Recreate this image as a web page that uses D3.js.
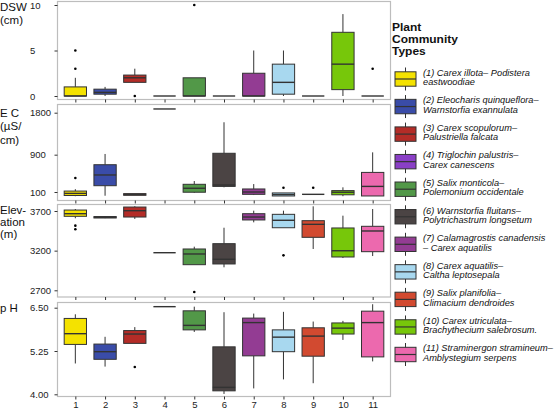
<!DOCTYPE html>
<html><head><meta charset="utf-8">
<script src="https://cdn.jsdelivr.net/npm/d3@7"></script>
<style>body{margin:0;background:#fff}svg{display:block;font-family:"Liberation Sans",Arial,sans-serif}</style>
</head><body><svg id="c" width="559" height="410"></svg>
<script>
const categories = ["1","2","3","4","5","6","7","8","9","10","11"];
const xTickLabels = ["1","2","3","4","5","6","7","8","9","10","11"];
const colors = ["#F4E200","#3A4CA8","#B42C27","#8A3FC6","#529848","#4B4444","#933C93","#A8D8EF","#D24A30","#77C70A","#EC69AE"];

// box stats: [lowWhisker, q1, median, q3, highWhisker]
const dswStats = [[0,0,0,1,2],[0,0.2,0.4,0.75,1],[1.5,1.5,2,2.3,3],[0,0,0,0,0],[0,0,0,2,2],[0,0,0,0,0],[0,0,0,2.5,5],[0,0.2,1.5,3.5,5],[0,0,0,0,0],[0,0.7,3.5,7,9],[0,0,0,0,0]];
const dswOutliers = [[3,5],[],[0],[],[10],[],[],[],[],[],[3]];
const ecStats = [[10,25,70,120,160],[20,235,465,685,915],[30,30,45,65,65],[1880,1880,1880,1880,1880],[80,95,180,265,335],[200,220,250,930,1595],[35,50,100,165,270],[15,15,45,80,80],[50,50,50,50,50],[10,40,95,130,200],[15,15,220,520,950]];
const ecOutliers = [[400],[],[],[],[],[],[],[190],[190],[],[]];
const elevStats = [[3608,3633,3666,3712,3725],[3610,3612,3620,3630,3635],[3600,3624,3704,3750,3760],[3174,3174,3174,3174,3174],[3023,3023,3158,3221,3250],[2990,3032,3091,3288,3489],[3557,3587,3624,3666,3704],[3489,3489,3583,3658,3704],[3221,3368,3532,3578,3759],[3107,3120,3199,3486,3641],[3132,3187,3448,3507,3725]];
const elevOutliers = [[3515,3469],[],[],[],[2679],[],[],[3141],[],[],[]];
const phStats = [[4.89,5.44,5.75,6.19,6.31],[4.80,5.01,5.23,5.45,5.66],[5.47,5.47,5.74,5.84,5.94],[6.53,6.53,6.53,6.53,6.53],[5.80,5.86,5.99,6.41,6.53],[4.01,4.10,4.20,5.37,6.37],[4.17,5.11,6.07,6.20,6.33],[4.43,5.23,5.65,5.86,6.38],[4.32,5.10,5.68,5.92,6.10],[5.57,5.74,5.91,6.06,6.12],[4.95,5.08,6.07,6.40,6.60]];
const phOutliers = [[],[],[4.79],[],[],[],[],[],[],[],[]];

const dswTicks = [0,5,10];
const ecTicks = [100,900,1800];
const elevTicks = [2700,3200,3700];
const phTicks = [4.00,5.25,6.50];

const dswTitle = ["DSW","(cm)"];
const ecTitle = ["E C","(µS/","cm)"];
const elevTitle = ["Elev-","ation","(m)"];
const phTitle = ["p H"];

const legendTitle = ["Plant","Community","Types"];
const legendLabels = [
 ["(1) Carex illota\u2013 Podistera","eastwoodiae"],
 ["(2) Eleocharis quinqueflora\u2013","Warnstorfia exannulata"],
 ["(3) Carex scopulorum\u2013","Palustriella falcata"],
 ["(4) Triglochin palustris\u2013","Carex canescens"],
 ["(5) Salix monticola\u2013","Polemonium occidentale"],
 ["(6) Warnstorfia fluitans\u2013","Polytrichastrum longsetum"],
 ["(7) Calamagrostis canadensis","\u2013 Carex aquatilis"],
 ["(8) Carex aquatilis\u2013","Caltha leptosepala"],
 ["(9) Salix planifolia\u2013","Climacium dendroides"],
 ["(10) Carex utriculata\u2013","Brachythecium salebrosum."],
 ["(11) Straminergon stramineum\u2013","Amblystegium serpens"]
];

const svg = d3.select("#c");
const left = 57.5, right = 390.5;
const x = d3.scalePoint().domain(categories).range([left, right]).padding(0.6);
const bw = x.step() * 0.75;
const lineCol = "#333";

const panels = [
  {top:1.5, bottom:99.5, stats:dswStats, out:dswOutliers, ticks:dswTicks, fmt:d3.format("d"),
   y:d3.scaleLinear().domain([0,10]).range([96,5]), title:dswTitle, titleY:[10.7,24.2]},
  {top:104.5, bottom:200.5, stats:ecStats, out:ecOutliers, ticks:ecTicks, fmt:d3.format("d"),
   y:d3.scaleLinear().domain([100,1800]).range([192,112.7]), title:ecTitle, titleY:[116.5,130,143.5]},
  {top:204.5, bottom:297, stats:elevStats, out:elevOutliers, ticks:elevTicks, fmt:d3.format("d"),
   y:d3.scaleLinear().domain([2700,3700]).range([290.3,211]), title:elevTitle, titleY:[214,226,238]},
  {top:302.5, bottom:396.5, stats:phStats, out:phOutliers, ticks:phTicks, fmt:d3.format(".2f"),
   y:d3.scaleLinear().domain([4,6.5]).range([394.3,307.7]), title:phTitle, titleY:[312]}
];

panels.forEach((p, pi) => {
  const g = svg.append("g");
  g.append("rect").attr("x", left).attr("y", p.top).attr("width", right-left).attr("height", p.bottom-p.top)
   .attr("fill","none").attr("stroke","#bdbdbd").attr("stroke-width",1.2);
  const ax = g.append("g").attr("transform",`translate(${left},0)`)
    .call(d3.axisLeft(p.y).tickValues(p.ticks).tickFormat(p.fmt).tickSize(3).tickPadding(4));
  ax.select(".domain").remove();
  ax.selectAll(".tick line").attr("stroke", lineCol);
  ax.selectAll(".tick text").attr("x", 30-left).attr("text-anchor","start")
    .style("font-size","9.5px").attr("fill","#222").attr("font-family","Liberation Sans, Arial, sans-serif");
  const xa = g.append("g").attr("transform",`translate(0,${p.bottom})`)
    .call(d3.axisBottom(x).tickSize(3).tickFormat((d,i)=> pi===3 ? xTickLabels[i] : ""));
  xa.select(".domain").remove();
  xa.selectAll(".tick line").attr("stroke", lineCol);
  xa.selectAll(".tick text").style("font-size","9.5px").attr("fill","#222").attr("dy","0.55em")
    .attr("font-family","Liberation Sans, Arial, sans-serif");
  p.title.forEach((t,i)=>{
    g.append("text").attr("x",0).attr("y",p.titleY[i]).text(t).attr("fill","#111")
     .style("font-size","11.5px");
  });
  categories.forEach((c,i)=>{
    const s = p.stats[i], cx = x(c), y = p.y;
    const bg = g.append("g");
    bg.append("line").attr("x1",cx).attr("x2",cx).attr("y1",y(s[4])).attr("y2",y(s[3])).attr("stroke",lineCol).attr("stroke-width",1);
    bg.append("line").attr("x1",cx).attr("x2",cx).attr("y1",y(s[1])).attr("y2",y(s[0])).attr("stroke",lineCol).attr("stroke-width",1);
    bg.append("rect").attr("x",cx-bw/2).attr("width",bw).attr("y",y(s[3])).attr("height",Math.max(0,y(s[1])-y(s[3])))
      .attr("fill",colors[i]).attr("stroke",lineCol).attr("stroke-width",1);
    bg.append("line").attr("x1",cx-bw/2).attr("x2",cx+bw/2).attr("y1",y(s[2])).attr("y2",y(s[2])).attr("stroke",lineCol).attr("stroke-width",1.4);
    p.out[i].forEach(v=>{
      bg.append("circle").attr("cx",cx).attr("cy",y(v)).attr("r",1.3).attr("fill","#000");
    });
  });
});

// legend
const lg = svg.append("g");
legendTitle.forEach((t,i)=>{
  lg.append("text").attr("transform",`translate(392,${30.5+i*12.3}) scale(1.2,1)`).text(t)
    .style("font-size","10px").style("font-weight","bold").attr("fill","#111");
});
const keyY = d3.scaleLinear().domain([0,10]).range([79, 354.5]);
const itemTexts = [];
legendLabels.forEach((lab,i)=>{
  const cy = keyY(i), kx = 395, kw = 21, mid = kx + kw/2;
  lg.append("line").attr("x1",mid).attr("x2",mid).attr("y1",cy-11.5).attr("y2",cy+11.5).attr("stroke",lineCol);
  lg.append("rect").attr("x",kx).attr("y",cy-7.2).attr("width",kw).attr("height",14.4).attr("fill",colors[i]).attr("stroke",lineCol);
  lg.append("line").attr("x1",kx).attr("x2",kx+kw).attr("y1",cy).attr("y2",cy).attr("stroke",lineCol).attr("stroke-width",1.2);
  lab.forEach((t,j)=>{
    const tx = lg.append("text").attr("data-y", cy-3.2+j*9.4).text(t).style("font-size","9.3px")
      .style("font-style","italic").attr("fill","#111");
    itemTexts.push(tx);
  });
});
let maxW = 0;
itemTexts.forEach(t => { maxW = Math.max(maxW, t.node().getComputedTextLength()); });
const sx = Math.min(1.1, 130 / maxW);
itemTexts.forEach(t => t.attr("transform", `translate(423,${t.attr("data-y")}) scale(${sx},1)`));
</script></body></html>
